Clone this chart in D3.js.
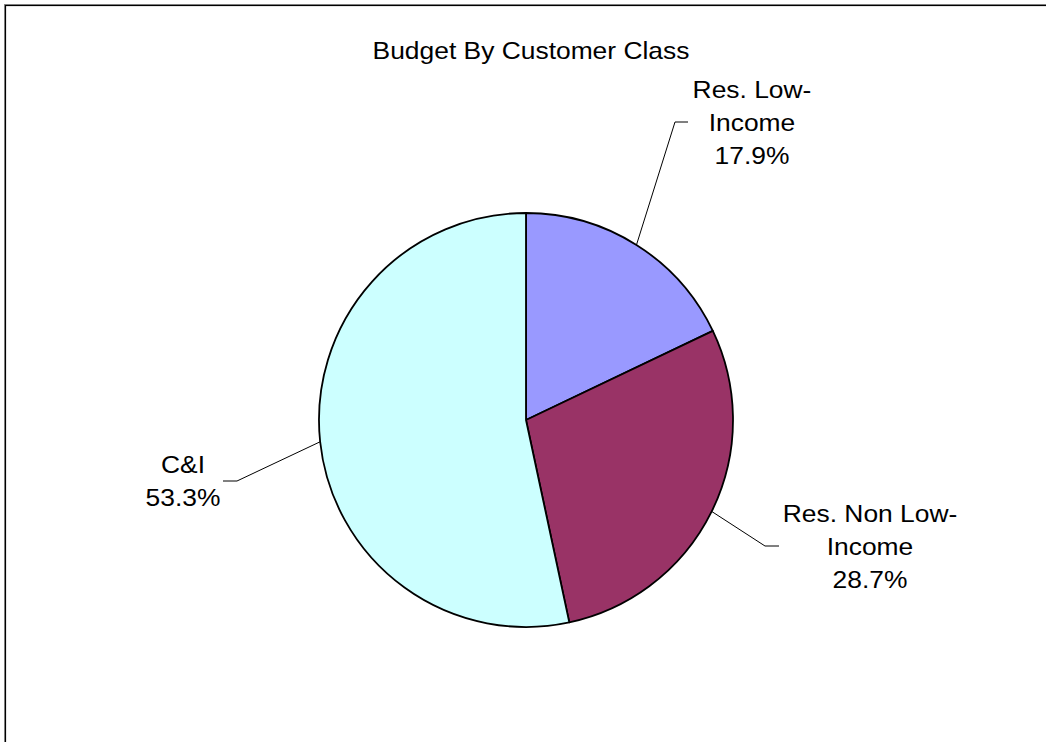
<!DOCTYPE html>
<html>
<head>
<meta charset="utf-8">
<script src="https://cdn.jsdelivr.net/npm/d3@7"></script>
<style>
  html, body { margin: 0; padding: 0; background: #fff; }
  svg { display: block; }
  text { font-family: "Liberation Sans", Arial, sans-serif; fill: #000; }
</style>
</head>
<body>
<svg id="chart" width="1046" height="742"></svg>
<script>
// Budget share by customer class (percent)
const categories = ["Res. Low-Income", "Res. Non Low-Income", "C&I"];
const values = [17.9, 28.7, 53.3];
const labelLines = [["Res. Low-", "Income"], ["Res. Non Low-", "Income"], ["C&I"]];
const sliceColors = ["#9999FF", "#993366", "#CCFFFF"];
const title = "Budget By Customer Class";

const W = 1046, H = 742;
const cx = 526, cy = 420, R = 207;
const fontSize = 24, lineGap = 33, stretch = 1.1;

// Label placement: elbow point of the leader, end of the short horizontal run,
// and the centre/baseline of the first text line.
const labelLayout = [
  { elbow: [675, 122], end: [688, 122], text: [752, 98] },
  { elbow: [765, 546], end: [779, 546], text: [870, 522] },
  { elbow: [237, 481], end: [223, 481], text: [183, 473] }
];

const svg = d3.select("#chart");

// Chart area frame (runs off the right and bottom edges)
svg.append("rect")
  .attr("x", 4.5).attr("y", 4.5).attr("width", W + 20).attr("height", H + 20)
  .attr("fill", "none").attr("stroke", "#8c8c8c").attr("stroke-width", 1);
svg.append("rect")
  .attr("x", 5.5).attr("y", 5.5).attr("width", W + 20).attr("height", H + 20)
  .attr("fill", "none").attr("stroke", "#000").attr("stroke-width", 1.2);

// Title
svg.append("text")
  .attr("transform", `translate(531,59) scale(${stretch},1)`)
  .attr("text-anchor", "middle")
  .attr("font-size", fontSize)
  .text(title);

const data = categories.map((c, i) => ({ name: c, value: values[i], i }));
const pie = d3.pie().sort(null).value(d => d.value).startAngle(0).endAngle(2 * Math.PI);
const arcs = pie(data);

const arc = d3.arc().innerRadius(0).outerRadius(R);
const rim = d3.arc().innerRadius(R).outerRadius(R);

const g = svg.append("g").attr("transform", `translate(${cx},${cy})`);

g.selectAll("path.slice")
  .data(arcs)
  .join("path")
  .attr("class", "slice")
  .attr("d", arc)
  .attr("fill", d => sliceColors[d.data.i])
  .attr("stroke", "#000")
  .attr("stroke-width", 1.8)
  .attr("stroke-linejoin", "round");

// Leader lines and labels
arcs.forEach(a => {
  const L = labelLayout[a.data.i];
  const p = rim.centroid(a);
  const start = [cx + p[0], cy + p[1]];
  svg.append("polyline")
    .attr("points", [start, L.elbow, L.end].map(q => q.join(",")).join(" "))
    .attr("fill", "none")
    .attr("stroke", "#000")
    .attr("stroke-width", 1);

  const lines = labelLines[a.data.i].concat([d3.format(".1f")(a.data.value) + "%"]);
  lines.forEach((t, k) => {
    svg.append("text")
      .attr("transform", `translate(${L.text[0]},${L.text[1] + k * lineGap}) scale(${stretch},1)`)
      .attr("text-anchor", "middle")
      .attr("font-size", fontSize)
      .text(t);
  });
});
</script>
</body>
</html>
